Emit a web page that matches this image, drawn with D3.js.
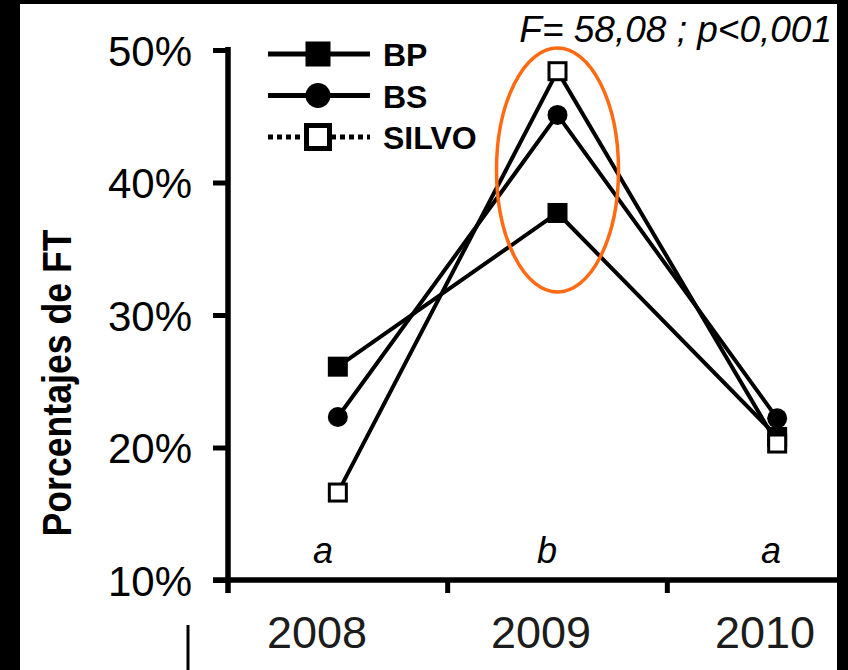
<!DOCTYPE html>
<meta charset="utf-8">
<head>
	<script type="text/javascript" src="https://cdn.jsdelivr.net/npm/d3@7"></script>
	<style>
		body { margin: 0; background: #fff; }
		svg { display: block; font-family: "Liberation Sans", Arial, sans-serif; }
	</style>
</head>
<body>
	<svg id="chart" width="848" height="670"></svg>
</body>
<script type="text/javascript">
	// data
	var years = ['2008', '2009', '2010'];
	var bp = [26.1, 37.7, 20.8];
	var bs = [22.3, 45.1, 22.2];
	var silvo = [16.6, 48.4, 20.3];
	var groupLetters = ['a', 'b', 'a'];
	var yTicks = [10, 20, 30, 40, 50];
	var statText = 'F= 58,08 ; p<0,001';

	var svg = d3.select('#chart');

	var x = d3.scaleBand().domain(years).range([228, 887]).padding(0);
	var y = d3.scaleLinear().domain([10, 50]).range([580, 50]);
	var cx = function(d){ return x(d) + x.bandwidth() / 2; };
	// the year labels sit a bit left of the category centres in the original
	var xLab = d3.scalePoint().domain(years).range([317, 765]);

	svg.append('rect').attr('width', 848).attr('height', 670).attr('fill', '#fff');

	// y axis
	var yAxis = d3.axisLeft(y).tickValues(yTicks).tickSize(15).tickSizeOuter(0).tickPadding(21)
		.tickFormat(function(d){ return d + '%'; });
	var gy = svg.append('g').attr('transform', 'translate(228,0)').call(yAxis);
	gy.select('.domain').remove();
	gy.selectAll('.tick line').attr('stroke', '#000').attr('stroke-width', 5);
	gy.selectAll('.tick text').attr('font-size', 42).attr('fill', '#000').attr('dy', '0.36em')
		.style('font-family', '"Liberation Sans", Arial, sans-serif');
	svg.append('line').attr('x1', 228).attr('x2', 228).attr('y1', 47).attr('y2', 593)
		.attr('stroke', '#000').attr('stroke-width', 5.5);

	// x axis line + ticks on band edges
	svg.append('line').attr('x1', 213).attr('x2', 848).attr('y1', 580).attr('y2', 580)
		.attr('stroke', '#000').attr('stroke-width', 5.5);
	svg.selectAll('.xtick').data(years.slice(1)).enter().append('line')
		.attr('x1', function(d){ return x(d); }).attr('x2', function(d){ return x(d); })
		.attr('y1', 580).attr('y2', 593).attr('stroke', '#000').attr('stroke-width', 5);

	svg.selectAll('.xlab').data(years).enter().append('text')
		.attr('x', function(d){ return xLab(d); }).attr('y', 648)
		.attr('text-anchor', 'middle').attr('font-size', 45).attr('fill', '#1c1c1c')
		.text(function(d){ return d; });

	// y title
	svg.append('text').attr('transform', 'translate(71,383) rotate(-90)')
		.attr('text-anchor', 'middle').attr('font-size', 40).attr('font-weight', 'bold')
		.attr('textLength', 307).attr('lengthAdjust', 'spacingAndGlyphs')
		.text('Porcentajes de FT');

	// group letters
	svg.selectAll('.grp').data(groupLetters).enter().append('text')
		.attr('x', function(d, i){ return xLab(years[i]) + 6; }).attr('y', 563)
		.attr('text-anchor', 'middle').attr('font-size', 36).attr('font-style', 'italic')
		.text(function(d){ return d; });

	// lines
	var series = [
		{name: 'BP', vals: bp, shape: 'square'},
		{name: 'BS', vals: bs, shape: 'circle'},
		{name: 'SILVO', vals: silvo, shape: 'open'}
	];
	var line = d3.line().x(function(d, i){ return cx(years[i]); }).y(function(d){ return y(d); });
	series.forEach(function(s){
		svg.append('path').attr('d', line(s.vals)).attr('fill', 'none')
			.attr('stroke', '#000').attr('stroke-width', 4).attr('stroke-linejoin', 'miter');
	});

	function marker(g, shape, px, py, size){
		if(shape == 'circle'){
			g.append('circle').attr('cx', px).attr('cy', py).attr('r', size / 2).attr('fill', '#000');
		} else if(shape == 'square'){
			g.append('rect').attr('x', px - size / 2).attr('y', py - size / 2)
				.attr('width', size).attr('height', size).attr('fill', '#000');
		} else {
			var sw = size > 22 ? 5 : 3;
			g.append('rect').attr('x', px - size / 2 + sw / 2).attr('y', py - size / 2 + sw / 2)
				.attr('width', size - sw).attr('height', size - sw)
				.attr('fill', '#fff').attr('stroke', '#000').attr('stroke-width', sw);
		}
	}
	series.forEach(function(s){
		s.vals.forEach(function(v, i){ marker(svg, s.shape, cx(years[i]), y(v), 20); });
	});

	// highlight ellipse around 2009
	svg.append('ellipse').attr('cx', cx('2009')).attr('cy', 170).attr('rx', 61).attr('ry', 122)
		.attr('fill', 'none').attr('stroke', '#ff6a13').attr('stroke-width', 3.5);

	// stats text
	svg.append('text').attr('x', 832).attr('y', 42).attr('text-anchor', 'end')
		.attr('font-size', 37).attr('font-style', 'italic').text(statText);

	// legend
	var leg = svg.append('g');
	series.forEach(function(s, i){
		var ly = 54 + i * 41.5;
		leg.append('line').attr('x1', 268).attr('x2', 370).attr('y1', ly).attr('y2', ly)
			.attr('stroke', '#000').attr('stroke-width', 5)
			.attr('stroke-dasharray', s.shape == 'open' ? '5,4' : null);
		marker(leg, s.shape, 318, ly, s.shape == 'open' ? 28 : 25);
		leg.append('text').attr('x', 383).attr('y', ly + 12).attr('font-size', 32)
			.attr('font-weight', 'bold').text(s.name);
	});

	// black frame edges of the scanned figure
	svg.append('rect').attr('x', 0).attr('y', 0).attr('width', 20).attr('height', 670).attr('fill', '#000');
	svg.append('rect').attr('x', 0).attr('y', 0).attr('width', 848).attr('height', 4).attr('fill', '#000');
	svg.append('rect').attr('x', 837).attr('y', 0).attr('width', 11).attr('height', 670).attr('fill', '#000');
	svg.append('line').attr('x1', 188).attr('x2', 188).attr('y1', 625).attr('y2', 670)
		.attr('stroke', '#000').attr('stroke-width', 3);
</script>
